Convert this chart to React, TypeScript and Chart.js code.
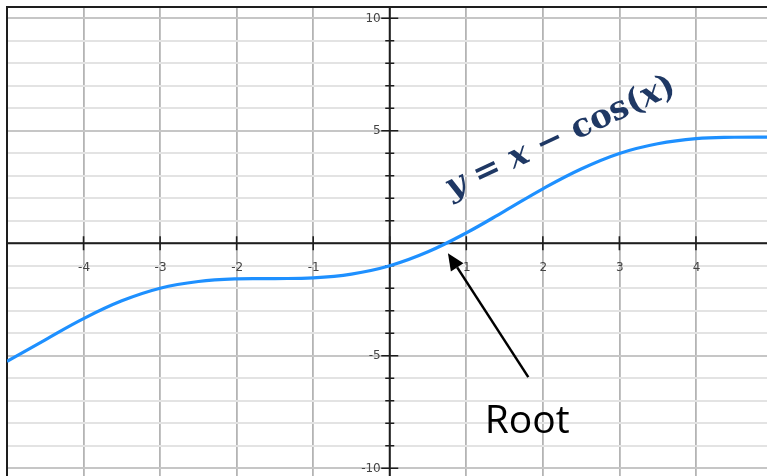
import React, { useEffect, useRef } from "react";
import { Chart, registerables } from "chart.js";

Chart.register(...registerables);

// Sampled points of the curve y = x - cos(x)
const xValues = [-5, -4.5, -4, -3.5, -3, -2.5, -2, -1.5, -1, -0.5, 0, 0.5, 1, 1.5, 2, 2.5, 3, 3.5, 4, 4.5, 5];
const yValues = [-5.25, -4.29, -3.35, -2.56, -2.0, -1.7, -1.58, -1.57, -1.54, -1.37, -1.0, -0.38, 0.46, 1.43, 2.42, 3.3, 3.99, 4.42, 4.65, 4.71, 4.72];

// Axis tick labels
const xTickLabels = [-4, -3, -2, -1, 1, 2, 3, 4];
const yTickLabels = [-10, -5, 5, 10];

// Plot window
const xRange = [-5, 5];
const yRange = [-10.5, 10.5];

// Annotations (data coordinates)
const equationAnchor = { x: 0.8, y: 2.0 };
const arrowTail = { x: 1.81, y: -5.95 };
const arrowTip = { x: 0.76, y: -0.44 };
const rootLabelPos = { x: 1.24, y: -8.44 };
const rootLabel = "Root";

type Part = { text: string; style: "italic" | "upright"; spaced: boolean };
const equationParts: Part[] = [
  { text: "y", style: "italic", spaced: true },
  { text: "=", style: "upright", spaced: true },
  { text: "x", style: "italic", spaced: true },
  { text: "\u2212", style: "upright", spaced: true },
  { text: "cos", style: "upright", spaced: false },
  { text: "(", style: "upright", spaced: false },
  { text: "x", style: "italic", spaced: false },
  { text: ")", style: "upright", spaced: false },
];

// integer grid positions for both axes
const integerTicks = (scale: any) => {
  const out: { value: number }[] = [];
  for (let v = Math.ceil(scale.min); v <= Math.floor(scale.max); v++) out.push({ value: v });
  scale.ticks = out;
};

const overlayPlugin = {
  id: "graphOverlay",
  beforeDatasetsDraw(chart: any) {
    const { ctx, chartArea, scales } = chart;
    const xs = scales.x;
    const ys = scales.y;
    const x0 = xs.getPixelForValue(0);
    const y0 = ys.getPixelForValue(0);
    ctx.save();
    ctx.strokeStyle = "#1e1e1e";
    ctx.lineWidth = 2;
    // frame
    ctx.beginPath();
    ctx.moveTo(chartArea.left, chartArea.bottom);
    ctx.lineTo(chartArea.left, chartArea.top);
    ctx.lineTo(chartArea.right, chartArea.top);
    ctx.stroke();
    // axes
    ctx.beginPath();
    ctx.moveTo(chartArea.left, y0);
    ctx.lineTo(chartArea.right, y0);
    ctx.moveTo(x0, chartArea.top);
    ctx.lineTo(x0, chartArea.bottom);
    ctx.stroke();
    // tick marks
    ctx.lineWidth = 1.6;
    ctx.beginPath();
    for (let v = Math.ceil(xRange[0]); v <= xRange[1]; v++) {
      const px = xs.getPixelForValue(v);
      ctx.moveTo(px, y0 - 7);
      ctx.lineTo(px, y0 + 7);
    }
    for (let v = Math.ceil(yRange[0]); v <= yRange[1]; v++) {
      if (v === 0) continue;
      const py = ys.getPixelForValue(v);
      const half = v % 5 === 0 ? 8.5 : 4.5;
      ctx.moveTo(x0 - half, py);
      ctx.lineTo(x0 + half, py);
    }
    ctx.stroke();
    // tick labels
    ctx.fillStyle = "#444";
    ctx.font = '12px "DejaVu Sans"';
    ctx.textAlign = "center";
    ctx.textBaseline = "middle";
    xTickLabels.forEach((v) => {
      ctx.fillText(String(v), xs.getPixelForValue(v) + 0.5, y0 + 25);
    });
    ctx.textAlign = "right";
    yTickLabels.forEach((v) => {
      ctx.fillText(String(v), x0 - 9, ys.getPixelForValue(v) + 0.5);
    });
    ctx.restore();
  },
  afterDatasetsDraw(chart: any) {
    const { ctx, scales } = chart;
    const xs = scales.x;
    const ys = scales.y;
    ctx.save();

    // rotated equation
    const ax = xs.getPixelForValue(equationAnchor.x);
    const ay = ys.getPixelForValue(equationAnchor.y);
    const fam = '"DejaVu Serif", "Liberation Serif", serif';
    const size = 33;
    const lineLength = 250;
    const fontFor = (p: Part) => `${p.style === "italic" ? "italic " : ""}bold ${size}px ${fam}`;
    let glyphs = 0;
    let gaps = 0;
    equationParts.forEach((p) => {
      ctx.font = fontFor(p);
      glyphs += ctx.measureText(p.text).width;
      if (p.spaced) gaps++;
    });
    const gap = Math.max(2, (lineLength - glyphs) / gaps);
    ctx.translate(ax, ay);
    ctx.rotate((-25 * Math.PI) / 180);
    ctx.fillStyle = "#1f3864";
    ctx.textBaseline = "alphabetic";
    ctx.textAlign = "left";
    let cx = 0;
    equationParts.forEach((p) => {
      ctx.font = fontFor(p);
      ctx.fillText(p.text, cx, 0);
      cx += ctx.measureText(p.text).width + (p.spaced ? gap : 0);
    });
    ctx.setTransform(1, 0, 0, 1, 0, 0);

    // arrow to the root
    const tx = xs.getPixelForValue(arrowTail.x);
    const ty = ys.getPixelForValue(arrowTail.y);
    const hx = xs.getPixelForValue(arrowTip.x);
    const hy = ys.getPixelForValue(arrowTip.y);
    const ang = Math.atan2(hy - ty, hx - tx);
    const headLen = 17;
    const headHalf = 7.5;
    const bx = hx - headLen * Math.cos(ang);
    const by = hy - headLen * Math.sin(ang);
    ctx.strokeStyle = "#000";
    ctx.fillStyle = "#000";
    ctx.lineWidth = 2.5;
    ctx.beginPath();
    ctx.moveTo(tx, ty);
    ctx.lineTo(bx, by);
    ctx.stroke();
    ctx.beginPath();
    ctx.moveTo(hx, hy);
    ctx.lineTo(bx + headHalf * Math.sin(ang), by - headHalf * Math.cos(ang));
    ctx.lineTo(bx - headHalf * Math.sin(ang), by + headHalf * Math.cos(ang));
    ctx.closePath();
    ctx.fill();

    // root label
    ctx.font = '39px "Open Sans", Lato, sans-serif';
    ctx.textAlign = "left";
    ctx.textBaseline = "alphabetic";
    ctx.fillText(rootLabel, xs.getPixelForValue(rootLabelPos.x), ys.getPixelForValue(rootLabelPos.y));
    ctx.restore();
  },
};

export default function App() {
  const canvasRef = useRef<HTMLCanvasElement | null>(null);

  useEffect(() => {
    const canvas = canvasRef.current;
    if (!canvas) return;
    const gridColor = (major: string, minor: string) => (c: any) => {
      const v = c.tick ? Math.round(c.tick.value) : 0;
      return v % 5 === 0 ? major : minor;
    };
    const chart = new Chart(canvas, {
      type: "line",
      data: {
        datasets: [
          {
            data: xValues.map((x, i) => ({ x, y: yValues[i] })),
            borderColor: "#1e90ff",
            borderWidth: 3.2,
            pointRadius: 0,
            tension: 0.4,
            fill: false,
          },
        ],
      },
      options: {
        responsive: false,
        animation: false,
        devicePixelRatio: 1,
        layout: { padding: { left: 7, top: 7, right: 7.5, bottom: 10.5 } },
        plugins: { legend: { display: false }, tooltip: { enabled: false } },
        events: [],
        scales: {
          x: {
            type: "linear",
            min: xRange[0],
            max: xRange[1],
            afterBuildTicks: integerTicks,
            ticks: { display: false },
            grid: { color: gridColor("#b4b4b4", "#b4b4b4"), lineWidth: 1.8, drawTicks: false },
            border: { display: false },
          },
          y: {
            type: "linear",
            min: yRange[0],
            max: yRange[1],
            afterBuildTicks: integerTicks,
            ticks: { display: false },
            grid: { color: gridColor("#c6c6c6", "#e3e3e3"), lineWidth: 2, drawTicks: false },
            border: { display: false },
          },
        },
      },
      plugins: [overlayPlugin],
    });
    return () => chart.destroy();
  }, []);

  return (
    <div
      style={{
        position: "fixed",
        left: 0,
        top: 0,
        width: 767,
        height: 476,
        overflow: "hidden",
        background: "#fff",
      }}
    >
      <canvas ref={canvasRef} width={780} height={490} style={{ display: "block", width: 780, height: 490 }} />
    </div>
  );
}
